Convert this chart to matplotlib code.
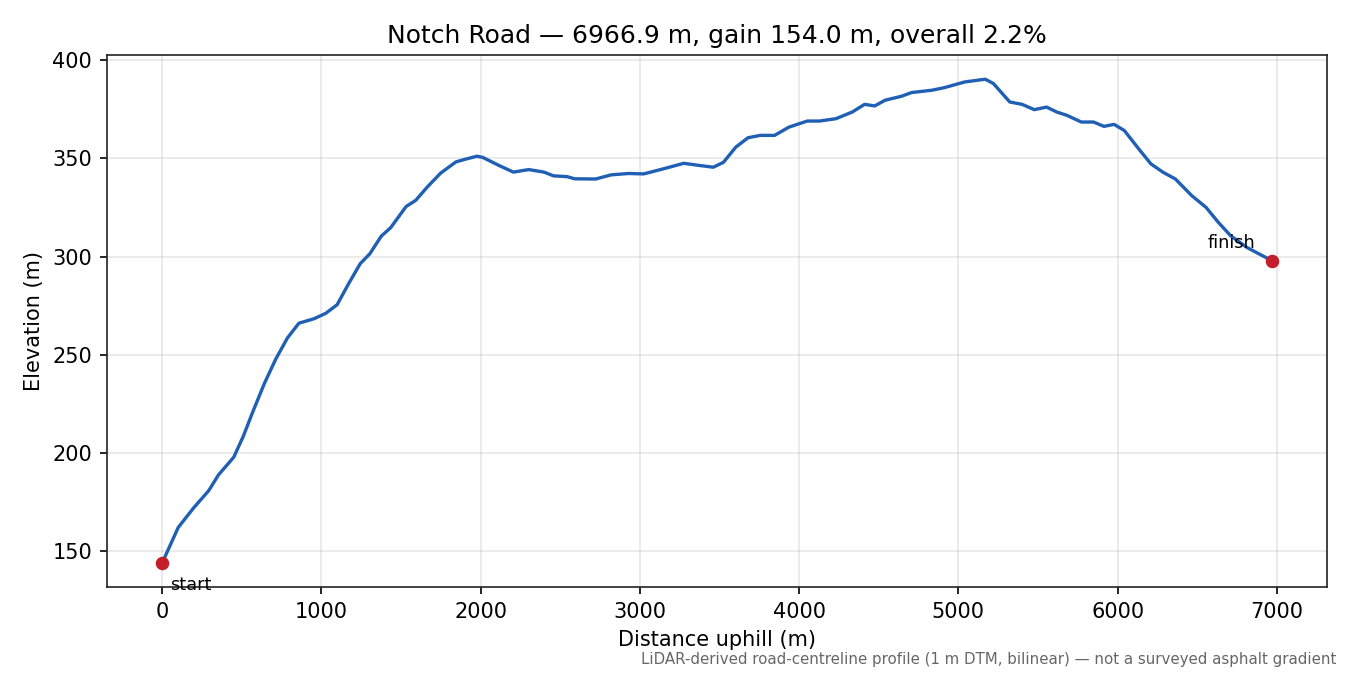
#!/usr/bin/env python3
import numpy as np
import matplotlib
matplotlib.use("Agg")
import matplotlib.pyplot as plt

# profile (distance m, elevation m)
dist = [0, 101, 197, 293, 354, 450, 510, 570, 642, 714, 787, 859, 955, 1027,
        1099, 1171, 1244, 1304, 1376, 1436, 1532, 1592, 1665, 1749, 1845, 1905,
        1977, 2013, 2110, 2206, 2302, 2398, 2458, 2543, 2591, 2723, 2819, 2928,
        3024, 3144, 3276, 3373, 3461, 3525, 3602, 3679, 3756, 3846, 3936, 4051,
        4128, 4231, 4334, 4411, 4475, 4540, 4642, 4706, 4835, 4912, 5040, 5169,
        5220, 5323, 5400, 5477, 5554, 5618, 5682, 5772, 5849, 5914, 5978, 6042,
        6132, 6209, 6286, 6363, 6466, 6556, 6633, 6710, 6813, 6966.9]
elev = [144.0, 162.1, 172.0, 180.9, 188.9, 197.9, 208.6, 221.1, 235.4, 247.9,
        258.6, 266.1, 268.4, 271.1, 275.5, 286.2, 296.4, 301.4, 310.4, 314.8,
        325.5, 328.6, 335.4, 342.5, 348.2, 349.6, 351.1, 350.5, 346.6, 343.0,
        344.3, 343.0, 341.1, 340.7, 339.6, 339.5, 341.6, 342.3, 342.1, 344.6,
        347.5, 346.4, 345.5, 348.0, 355.7, 360.5, 361.7, 361.7, 365.9, 369.0,
        369.0, 370.2, 373.6, 377.5, 376.7, 379.6, 381.6, 383.5, 384.7, 386.0,
        388.9, 390.3, 388.1, 378.7, 377.5, 374.8, 376.1, 373.6, 371.9, 368.5,
        368.5, 366.3, 367.3, 364.2, 354.9, 347.2, 342.9, 339.5, 331.0, 325.0,
        317.4, 310.6, 304.6, 298.0]

road = "Notch Road"
length_m = 6966.9
gain_m = 154.0
grade_pct = 2.2
note = "LiDAR-derived road-centreline profile (1 m DTM, bilinear) \u2014 not a surveyed asphalt gradient"

fig, ax = plt.subplots(figsize=(9, 4.5), dpi=150)
fig.subplots_adjust(left=0.079, right=0.983, top=0.9185, bottom=0.130)

ax.plot(dist, elev, color="#1f5fb4", lw=1.6, zorder=2, solid_joinstyle="round")
ax.scatter([dist[0], dist[-1]], [elev[0], elev[-1]], color="#c41e2a", s=30, zorder=3)
ax.annotate("start", (dist[0], elev[0]), xytext=(4, -13), textcoords="offset points",
            fontsize=8.5, ha="left")
ax.annotate("finish", (dist[-1], elev[-1]), xytext=(-8, 6), textcoords="offset points",
            fontsize=8.5, ha="right")

ax.set_title(f"{road} \u2014 {length_m:.1f} m, gain {gain_m:.1f} m, overall {grade_pct:.1f}%")
ax.set_xlabel("Distance uphill (m)")
ax.set_ylabel("Elevation (m)")
ax.grid(True, alpha=0.3)
for s in ax.spines.values():
    s.set_color("#222222")

fig.text(0.99, 0.012, note, ha="right", va="bottom", fontsize=7.2, color="#666666")

fig.savefig("out.png")
